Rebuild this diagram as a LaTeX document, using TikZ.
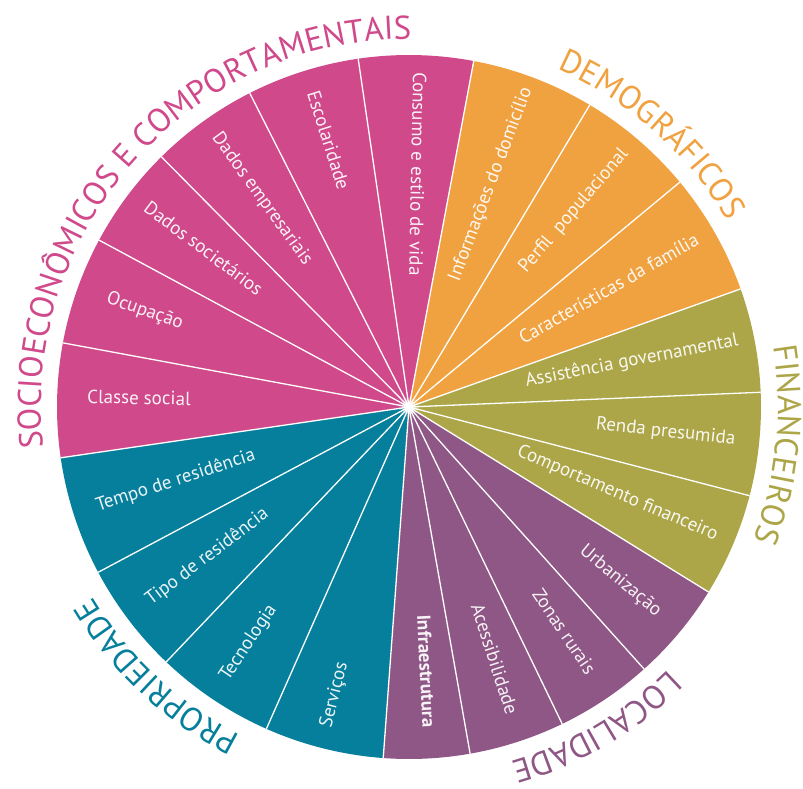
\documentclass[tikz,border=0pt]{standalone}
\usepackage{fontspec}
\setmainfont{PT Sans}
\usetikzlibrary{decorations.text}
\definecolor{pinkc}{RGB}{207,73,139}
\definecolor{orangec}{RGB}{240,162,65}
\definecolor{olivec}{RGB}{172,166,72}
\definecolor{purplec}{RGB}{143,87,133}
\definecolor{tealc}{RGB}{5,127,155}
\newcommand{\titlefont}{\fontsize{33}{33}\selectfont}
\begin{document}
\begin{tikzpicture}[
  lab/.style={inner sep=0pt, font=\fontsize{19}{19}\selectfont, text=white, text opacity=0.92},
  labL/.style={lab, anchor=mid west},
  labR/.style={lab, anchor=mid east},
  sep/.style={white, line width=1.3pt},
  arctitle/.style={decorate, decoration={text along path, text align=center, text color=#1}}
]
\useasboundingbox (-409pt,-381pt) rectangle (394pt,407pt);
\def\R{352pt}
% segments
\foreach \a/\b/\c in {2.4/19.6/olivec, 19.6/39.7/orangec, 39.7/59.1/orangec, 59.1/79.4/orangec,
  79.4/98.3/pinkc, 98.3/116.9/pinkc, 116.9/134.7/pinkc, 134.7/151.7/pinkc, 151.7/169.5/pinkc, 169.5/188.3/pinkc,
  188.3/208/tealc, 208/226.4/tealc, 226.4/246.1/tealc, 246.1/265.8/tealc,
  265.8/280/purplec, 280/295.8/purplec, 295.8/311.9/purplec, 311.9/328.3/purplec,
  328.3/345.4/olivec, 345.4/362.4/olivec}{
  \fill[\c] (0,0) -- (\a:\R) arc[start angle=\a, end angle=\b, radius=\R] -- cycle;
}
% separators
\foreach \a in {2.4,19.6,39.7,59.1,79.4,98.3,116.9,134.7,151.7,169.5,188.3,208,226.4,246.1,265.8,280,295.8,311.9,328.3,345.4}{
  \draw[sep] (0,0) -- (\a:\R);
}
% center glow
\fill[white, opacity=0.15] (0,0) circle (10pt);
\fill[white, opacity=0.35] (0,0) circle (7pt);
\fill[white, opacity=0.7] (0,0) circle (5pt);
\fill[white] (0,0) circle (3pt);
% segment labels (left half: reading toward centre)
\node[labL, rotate=-91.15] (consumo) at (88.85:335pt) {Consumo e estilo de vida};
\node[labL, rotate=-72.4] (escol) at (107.6:330pt) {Escolaridade};
\node[labL, rotate=-54.2] (demp) at (125.8:334pt) {Dados empresariais};
\node[labL, rotate=-36.8] (dsoc) at (143.2:331pt) {Dados societários};
\node[labL, rotate=-19.4] (ocup) at (160.6:321pt) {Ocupação};
\node[labL, rotate=-1.1] (classe) at (178.9:322pt) {Classe social};
\node[labL, rotate=18.15] (tempo) at (198.15:328pt) {Tempo de residência};
\node[labL, rotate=37.2] (tipo) at (217.2:326pt) {Tipo de residência};
\node[labL, rotate=56.25] (tecno) at (236.25:329pt) {Tecnologia};
\node[labL, rotate=75.95] (serv) at (255.95:331pt) {Serviços};
% right half: reading outward
\node[labR, rotate=272.9, font=\fontsize{19}{19}\selectfont\bfseries] (infra) at (272.9:321pt) {Infraestrutura};
\node[labR, rotate=287.9] (acess) at (287.9:324pt) {Acessibilidade};
\node[labR, rotate=303.85] (zonas) at (303.85:322pt) {Zonas rurais};
\node[labR, rotate=320.1] (urban) at (320.1:324pt) {Urbanização};
\node[labR, rotate=336.85] (comport) at (336.85:334pt) {Comportamento financeiro};
\node[labR, rotate=353.9] (renda) at (353.9:328pt) {Renda presumida};
\node[labR, rotate=11] (assist) at (11:336pt) {Assistência governamental};
\node[labR, rotate=29.65] (caract) at (29.65:334pt) {Características da família};
\node[labR, rotate=49.4] (perfil) at (49.4:335pt) {Perfil~ populacional};
\node[labR, rotate=69.25] (info) at (69.25:340pt) {Informações do domicílio};
% outer titles along the circle
\path[arctitle=pinkc, decoration={text={|\titlefont|SOCIOECONÔMICOS E COMPORTAMENTAIS}}]
  (208:368pt) arc[start angle=208, end angle=68, radius=368pt];
\path[arctitle=orangec, decoration={text={|\titlefont|DEMOGRÁFICOS}}]
  (88.3:369pt) arc[start angle=88.3, end angle=8.3, radius=369pt];
\path[arctitle=olivec, decoration={text={|\titlefont|FINANCEIROS}}]
  (34.2:369pt) arc[start angle=34.2, end angle=-45.8, radius=369pt];
\path[arctitle=purplec, decoration={text={|\titlefont|LOCALIDADE}}]
  (-19.75:369pt) arc[start angle=-19.75, end angle=-99.75, radius=369pt];
\path[arctitle=tealc, decoration={text={|\titlefont|PROPRIEDADE}}]
  (266.9:369pt) arc[start angle=266.9, end angle=186.9, radius=369pt];
\end{tikzpicture}
\end{document}
